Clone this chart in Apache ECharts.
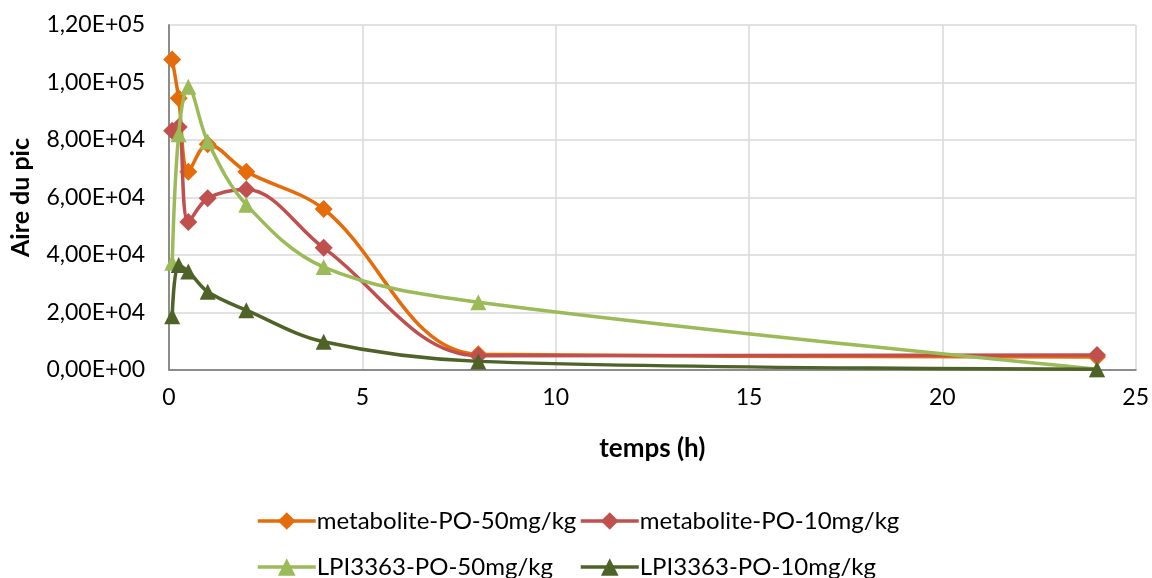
<!DOCTYPE html>
<html><head><meta charset="utf-8">
<script src="https://cdn.jsdelivr.net/npm/echarts@6/dist/echarts.min.js"></script>
<style>html,body{margin:0;padding:0;background:#fff}#c{width:1152px;height:578px}</style>
</head><body><div id="c"></div>
<script>
const times = [0.083, 0.25, 0.5, 1, 2, 4, 8, 24];
const metab50 = [108000, 94500, 69000, 78500, 69000, 56000, 5500, 4500];
const metab10 = [83200, 84500, 51500, 59700, 62800, 42500, 5000, 5200];
const lpi50 = [37300, 82000, 98500, 79500, 57500, 35800, 23600, 300];
const lpi10 = [18700, 36500, 34300, 27200, 20800, 9800, 3000, 300];
const seriesNames = ['metabolite-PO-50mg/kg','metabolite-PO-10mg/kg','LPI3363-PO-50mg/kg','LPI3363-PO-10mg/kg'];
const colors = ['#E46C0A','#C0504D','#9BBB59','#4F6228'];
const symbols = ['diamond','diamond','triangle','triangle'];
const FONT = 'Lato';

function fmt(v){
  if (v === 0) return '0,00E+00';
  const e = Math.floor(Math.log10(Math.abs(v)) + 1e-9);
  const m = v / Math.pow(10, e);
  return m.toFixed(2).replace('.', ',') + 'E+' + String(e).padStart(2,'0');
}
const all = [metab50, metab10, lpi50, lpi10];
const series = all.map((arr, i) => ({
  name: seriesNames[i], type: 'line', smooth: 0.35,
  data: times.map((t, k) => [t, arr[k]]),
  symbol: symbols[i], symbolSize: symbols[i]==='diamond' ? 18 : 16,
  lineStyle: {color: colors[i], width: 3.5},
  itemStyle: {color: colors[i]},
  z: 2 + i
}));
const legendPos = [[251, 504], [574, 504], [251, 550], [574, 550]];
const legends = seriesNames.map((n, i) => ({
  data: [n], left: legendPos[i][0], top: legendPos[i][1],
  itemWidth: 58, itemHeight: 22, itemGap: 0,
  lineStyle: {width: 3.5},
  textStyle: {fontSize: 24, color: '#000', fontFamily: FONT, padding: [0,0,0,-4]}
}));
const chart = echarts.init(document.getElementById('c'));
chart.setOption({
  animation: false,
  textStyle: {fontFamily: FONT},
  grid: {left: 169, right: 16, top: 25, bottom: 208},
  xAxis: {
    type: 'value', min: 0, max: 25, interval: 5,
    name: 'temps (h)', nameLocation: 'middle', nameGap: 66,
    nameTextStyle: {fontSize: 26, fontWeight: 'bold', color: '#000', fontFamily: FONT},
    axisLine: {lineStyle: {color: '#8c8c8c', width: 2}},
    axisTick: {show: false},
    axisLabel: {fontSize: 23, color: '#000', margin: 16, fontFamily: FONT},
    splitLine: {show: true, lineStyle: {color: '#d9d9d9', width: 1.5}}
  },
  yAxis: {
    type: 'value', min: 0, max: 120000, interval: 20000,
    name: 'Aire du pic', nameLocation: 'middle', nameGap: 136, nameRotate: 90,
    nameTextStyle: {fontSize: 25, fontWeight: 'bold', color: '#000', fontFamily: FONT},
    axisLine: {show: true, lineStyle: {color: '#8c8c8c', width: 2}},
    axisTick: {show: false},
    axisLabel: {fontSize: 23, color: '#000', margin: 24, formatter: fmt, fontFamily: FONT},
    splitLine: {show: true, lineStyle: {color: '#d9d9d9', width: 1.5}}
  },
  legend: legends,
  series: series
});
</script></body></html>
